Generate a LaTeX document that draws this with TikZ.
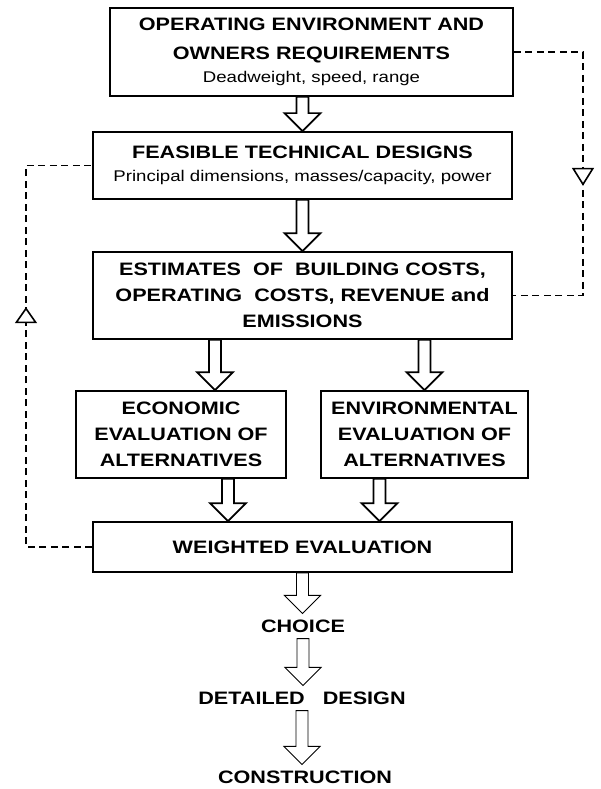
\documentclass[tikz,border=0pt]{standalone}
\usepackage{fontspec}
\setmainfont{Liberation Sans}[FakeStretch=1.2]
\usetikzlibrary{calc,arrows.meta,decorations.markings}

\newcommand{\detailfont}{\fontsize{15.5}{20}\selectfont\mdseries}
% hollow block arrow straight down from a point onto the top of a node
\newcommand{\blockarrow}[3][]{%
  \draw[#1] let \p1=(#2), \p2=(#3.north) in
    (\x1-6pt,\y1) -- (\x1-6pt,\y2+18pt) -- (\x1-18pt,\y2+18pt) -- (\x1,\y2)
    -- (\x1+18pt,\y2+18pt) -- (\x1+6pt,\y2+18pt) -- (\x1+6pt,\y1) -- cycle;}

\begin{document}
\begin{tikzpicture}[x=1pt, y=-1pt,
StageBox/.style={draw, line width=1.7pt, align=center, inner sep=0pt, font=\fontsize{18}{26}\selectfont\bfseries},
StageText/.style={align=center, inner sep=6pt, font=\fontsize{18}{26}\selectfont\bfseries},
Feedback/.style={dash pattern=on 7pt off 4.5pt, line width=1.6pt, postaction={decorate}},
BlockArrow/.style={line width=1.7pt},
ThinArrow/.style={line width=0.9pt}]

\fill[white] (0,0) rectangle (600,789);
\useasboundingbox (0,0) rectangle (600,789);

\node[StageBox, minimum width=403pt, minimum height=88pt] (env) at (311.5,52) {OPERATING ENVIRONMENT AND\\[3pt]OWNERS REQUIREMENTS\\[-3pt]{\detailfont Deadweight, speed, range}};
\node[StageBox, minimum width=419pt, minimum height=67pt] (feas) at (302.5,165.5) {FEASIBLE TECHNICAL DESIGNS\\[-3pt]{\detailfont Principal dimensions, masses/capacity, power}};
\node[StageBox, minimum width=419pt, minimum height=87pt] (est) at (302.5,295.5) {ESTIMATES\ \ OF\ \ BUILDING COSTS,\\OPERATING\ \ COSTS, REVENUE and\\EMISSIONS};

\node[StageBox, minimum width=210pt, minimum height=87pt] (econ) at (181,434.5) {ECONOMIC\\EVALUATION OF\\ALTERNATIVES};
\node[StageBox, minimum width=207pt, minimum height=87pt] (envir) at (424.5,434.5) {ENVIRONMENTAL\\EVALUATION OF\\ALTERNATIVES};

\node[StageBox, minimum width=419pt, minimum height=50pt] (weight) at (302.5,547) {WEIGHTED EVALUATION};

\node[StageText] (choice) at (303,626) {CHOICE};
\node[StageText] (detail) at (302,698) {DETAILED\hspace{1em}DESIGN};
\node[StageText] (constr) at (305,777) {CONSTRUCTION};

\blockarrow[BlockArrow]{env.south -| feas.north}{feas}
\blockarrow[BlockArrow]{feas.south}{est}
\blockarrow[BlockArrow]{$(est.south -| econ.north)+(34,0)$}{econ}
\blockarrow[BlockArrow]{est.south -| envir.north}{envir}
\blockarrow[BlockArrow]{$(econ.south)+(47,0)$}{weight}
\blockarrow[BlockArrow]{$(envir.south)+(-45,0)$}{weight}

\blockarrow[ThinArrow]{weight.south}{choice}
\blockarrow[ThinArrow]{choice.south}{detail}
\blockarrow[ThinArrow]{detail.south}{constr}

% feedback loops
\coordinate (rturn) at (583,0);
\coordinate (lturn) at (26,0);
\draw[Feedback, decoration={markings, mark=at position 203pt with {\arrow{Triangle[open, fill=white, width=22pt, length=18pt, line width=1.6pt]}}}]
  (env.east) -- (env.east -| rturn) -- (est.east -| rturn) -- (est.east);
\draw[Feedback, decoration={markings, mark=at position 306pt with {\arrow{Triangle[open, fill=white, width=22pt, length=16pt, line width=1.6pt]}}}]
  (weight.west) -- (weight.west -| lturn) -- (feas.west -| lturn) -- (feas.west);

\end{tikzpicture}
\end{document}
